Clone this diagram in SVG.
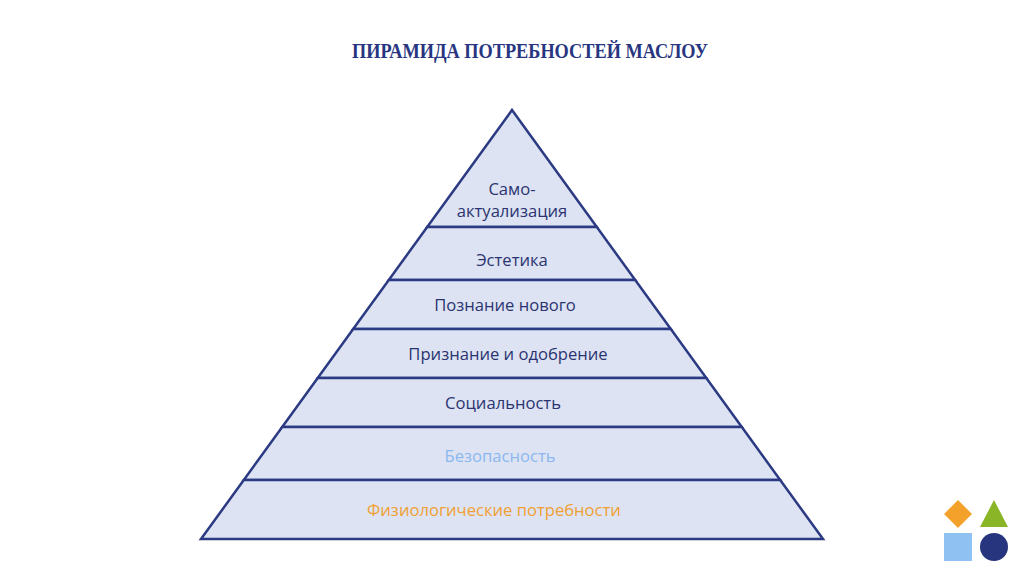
<svg xmlns="http://www.w3.org/2000/svg" width="1024" height="574" viewBox="0 0 1024 574">
<style>
.lvl{fill:#dde3f3;stroke:#2b3a82;stroke-width:2.5;stroke-linejoin:miter}
.t{font-family:"Open Sans","Noto Sans",sans-serif;font-size:16.6px;fill:#2b3470;text-anchor:middle}
.title{font-family:"Liberation Serif",serif;font-weight:bold;font-size:22px;fill:#283580;text-anchor:middle}
</style>
<rect width="1024" height="574" fill="#ffffff"/>
<text class="title" x="530" y="58" textLength="356" lengthAdjust="spacingAndGlyphs">ПИРАМИДА ПОТРЕБНОСТЕЙ МАСЛОУ</text>
<g id="level7"><polygon class="lvl" points="512,110 596.8,227 427.2,227"/><text class="t" x="512" y="195">Само-</text><text class="t" x="512" y="217">актуализация</text></g>
<g id="level6"><polygon class="lvl" points="427.2,227 596.8,227 635.2,280 388.8,280"/><text class="t" x="512" y="266">Эстетика</text></g>
<g id="level5"><polygon class="lvl" points="388.8,280 635.2,280 670.8,329 353.2,329"/><text class="t" x="505" y="311">Познание нового</text></g>
<g id="level4"><polygon class="lvl" points="353.2,329 670.8,329 706.3,378 317.7,378"/><text class="t" x="508" y="360">Признание и одобрение</text></g>
<g id="level3"><polygon class="lvl" points="317.7,378 706.3,378 741.8,427 282.2,427"/><text class="t" x="503" y="409">Социальность</text></g>
<g id="level2"><polygon class="lvl" points="282.2,427 741.8,427 780.2,480 243.8,480"/><text class="t" x="500" y="462" style="fill:#8bb8ef">Безопасность</text></g>
<g id="level1"><polygon class="lvl" points="243.8,480 780.2,480 823,539 201,539"/><text class="t" x="494" y="516" style="fill:#f0a032">Физиологические потребности</text></g>
<g id="connectors"></g>
<g id="icons">
<polygon points="958,500 972,514 958,528 944,514" fill="#f4a12c"/>
<polygon points="994,500 1008,527 980,527" fill="#8ab526"/>
<rect x="944" y="533" width="28" height="28" fill="#8fc1f2"/>
<circle cx="994" cy="547" r="14" fill="#27357f"/>
</g>
</svg>
